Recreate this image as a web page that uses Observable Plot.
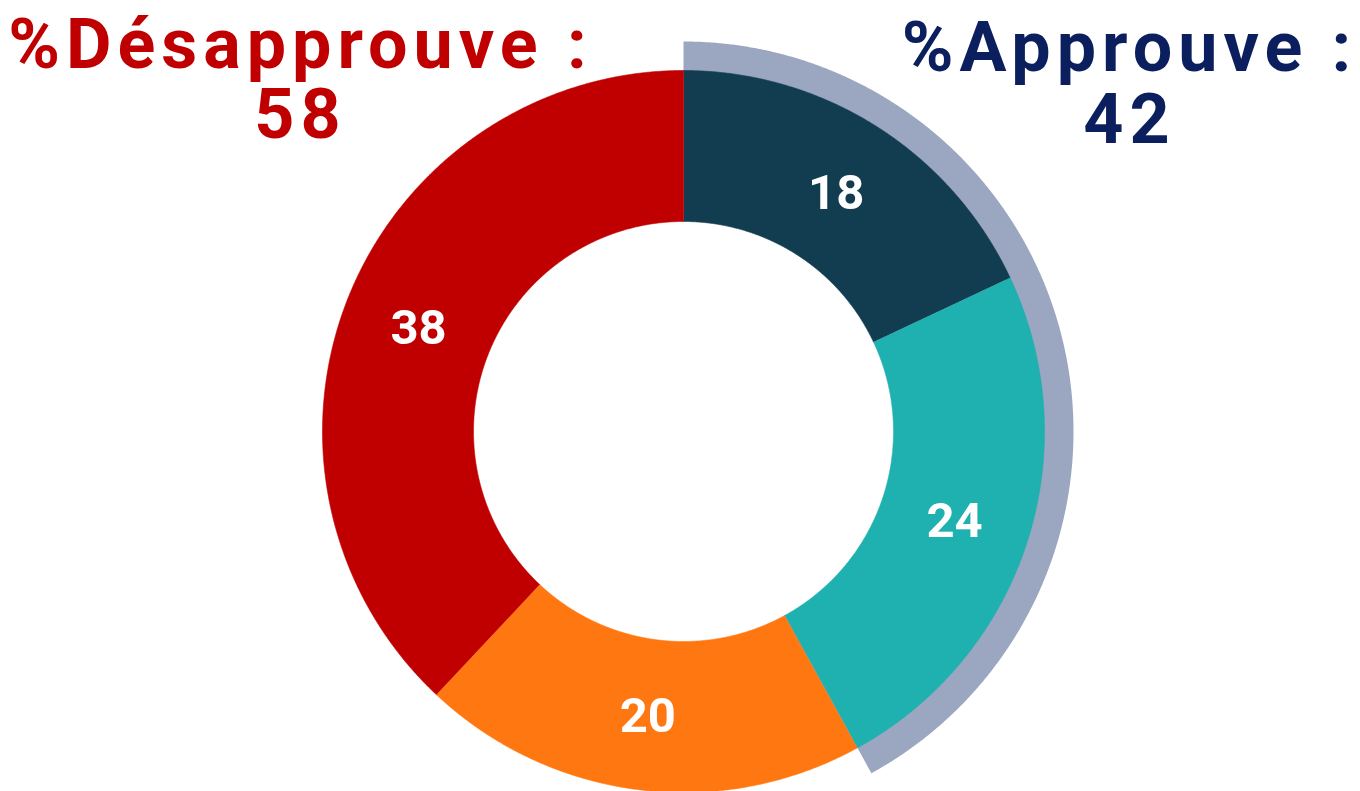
<!DOCTYPE html>
<html><head><meta charset="utf-8">
<script src="https://cdn.jsdelivr.net/npm/d3@7"></script>
<script src="https://cdn.jsdelivr.net/npm/@observablehq/plot@0.6"></script>
<style>
html,body{margin:0;padding:0;background:#fff;overflow:hidden}
g[font-size="70"] text{letter-spacing:6px}
</style></head><body><div id="chart"></div>
<script>
// ---- data ----
const categories = ["Approuve fortement", "Approuve plutôt", "Désapprouve plutôt", "Désapprouve fortement"];
const values = [18, 24, 20, 38];
const sliceColors = ["#123d50", "#1fb0b0", "#ff7711", "#c00000"];
const groups = ["%Désapprouve :", "%Approuve :"];
const groupTotals = [58, 42];
const groupColors = ["#c00000", "#0b1f5e"];
const approveShare = 42; // outer highlight ring
const ringColor = "#9ba7c1";

// ---- geometry (in pixel-like units around chart centre) ----
const R_OUT = 361, R_IN = 210, R_RING = 390, R_LABEL = 285;
const total = d3.sum(values);
const toAngle = v => v / total * 2 * Math.PI;

function ring(a0, a1, r0, r1, key, color) {
  const n = Math.max(2, Math.ceil((a1 - a0) / (Math.PI / 720)));
  const pts = [];
  for (let i = 0; i <= n; i++) {
    const a = a0 + (a1 - a0) * i / n;
    pts.push({key, color, x: r1 * Math.sin(a), y: r1 * Math.cos(a)});
  }
  for (let i = n; i >= 0; i--) {
    const a = a0 + (a1 - a0) * i / n;
    pts.push({key, color, x: r0 * Math.sin(a), y: r0 * Math.cos(a)});
  }
  return pts;
}

const polys = [];
const labels = [];
let cum = 0;
values.forEach((v, i) => {
  const a0 = toAngle(cum), a1 = toAngle(cum + v);
  polys.push(...ring(a0, a1, R_IN, R_OUT, categories[i], sliceColors[i]));
  const am = (a0 + a1) / 2;
  labels.push({text: String(v), x: R_LABEL * Math.sin(am), y: R_LABEL * Math.cos(am)});
  cum += v;
});
const ringPts = ring(0, toAngle(approveShare), R_OUT - 6, R_RING, "ring", ringColor);

// titles layout
const titlePos = [{x: -383, y1: 364, y2: 294}, {x: 446, y1: 361, y2: 289}];
const titleRows = [];
groups.forEach((g, i) => {
  titleRows.push({text: g, x: titlePos[i].x, y: titlePos[i].y1, color: groupColors[i]});
  titleRows.push({text: String(groupTotals[i]), x: titlePos[i].x, y: titlePos[i].y2, color: groupColors[i]});
});

const plot = Plot.plot({
  width: 1360, height: 791,
  margin: 0,
  x: {domain: [-683, 677], axis: null},
  y: {domain: [-360, 431], axis: null},
  color: {type: "identity"},
  style: {fontFamily: "Roboto, 'DejaVu Sans', sans-serif", background: "#fff"},
  marks: [
    Plot.line(ringPts, {x: "x", y: "y", z: "key", fill: "color", stroke: null}),
    Plot.line(polys, {x: "x", y: "y", z: "key", fill: "color", stroke: "color", strokeWidth: 0.6}),
    Plot.text(labels, {x: "x", y: "y", text: "text", fill: "white", fontSize: 49, fontWeight: 700, lineAnchor: "middle", dy: 2}),
    Plot.text(titleRows, {x: "x", y: "y", text: "text", fill: "color", fontSize: 70, fontWeight: 700, lineAnchor: "bottom", textAnchor: "middle"})
  ]
});
document.getElementById("chart").append(plot);
</script></body></html>
